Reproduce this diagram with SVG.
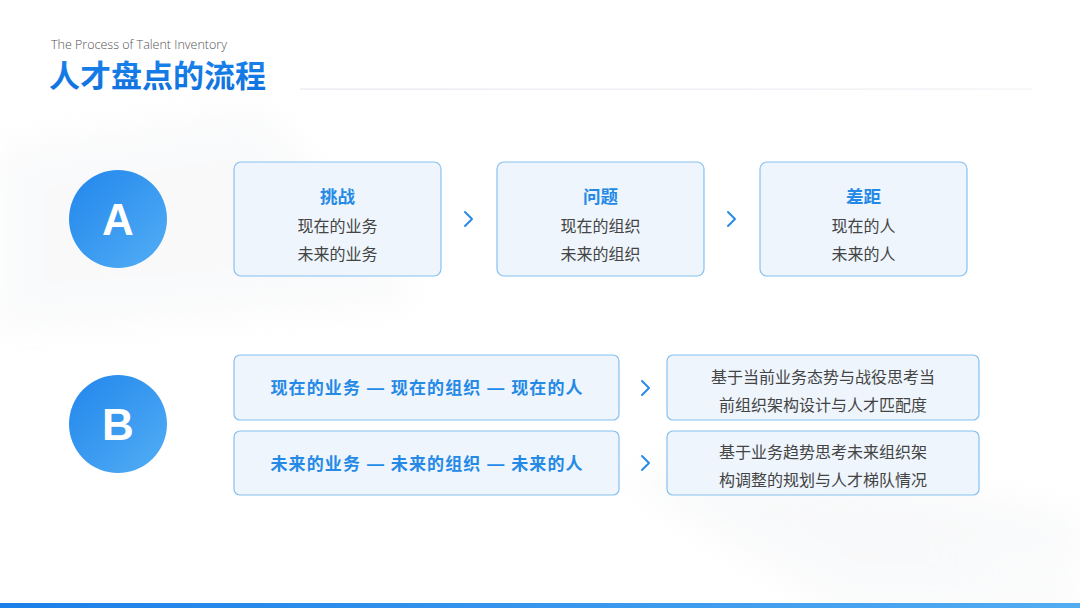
<svg xmlns="http://www.w3.org/2000/svg" width="1080" height="608" viewBox="0 0 1080 608">
<defs>
<linearGradient id="circ" x1="0" y1="0" x2="1" y2="1"><stop offset="0" stop-color="#2286ec"/><stop offset="1" stop-color="#52aef5"/></linearGradient>
<linearGradient id="bar" x1="0" y1="0" x2="1" y2="0"><stop offset="0" stop-color="#1a7fe8"/><stop offset="1" stop-color="#52acf2"/></linearGradient>
<linearGradient id="ttl" x1="0" y1="0" x2="0" y2="1"><stop offset="0" stop-color="#1a86ee"/><stop offset="1" stop-color="#0f6fdc"/></linearGradient>
<linearGradient id="ln" x1="0" y1="0" x2="1" y2="0"><stop offset="0" stop-color="#e4e8ee"/><stop offset="1" stop-color="#eef1f5"/></linearGradient>
<filter id="blur" x="-20%" y="-20%" width="140%" height="140%"><feGaussianBlur stdDeviation="18"/></filter>
</defs>
<style>
.box{fill:#eef5fc;stroke:#86c1f0;stroke-width:1.2}
.hd{font-family:"Noto Sans CJK SC",sans-serif;font-weight:700;font-size:17.5px;fill:#2589e6;text-anchor:middle}
.tx{font-family:"Noto Sans CJK SC",sans-serif;font-size:16px;fill:#444;text-anchor:middle}
.bt{font-family:"Noto Sans CJK SC",sans-serif;font-weight:700;font-size:17px;fill:#2589e6;text-anchor:middle}
.dash{font-family:"Liberation Sans",Arial,sans-serif;font-weight:700}
.ltr{font-family:"Liberation Sans",Arial,sans-serif;font-weight:700;font-size:44px;fill:#fff;text-anchor:middle}
.chev{fill:none;stroke:#2a8ae8;stroke-width:2;stroke-linecap:round;stroke-linejoin:round}
</style>
<rect width="1080" height="608" fill="#fff"/>
<g filter="url(#blur)" opacity="0.35">
<polygon points="0,150 260,110 420,300 0,330" fill="#eef0f3"/>
<polygon points="620,470 760,560 1080,560 1080,520 900,480" fill="#eceef1"/>
<polygon points="700,520 840,608 1080,608 1080,580" fill="#eef0f3"/>
</g>
<text x="51" y="49" font-family="'Open Sans','Liberation Sans',sans-serif" font-weight="300" font-size="12.5" fill="#555">The Process of Talent Inventory</text>
<text x="49" y="87" font-family="'Noto Sans CJK SC',sans-serif" font-weight="700" font-size="31" fill="url(#ttl)">人才盘点的流程</text>
<rect x="300" y="88.5" width="732" height="1.2" fill="url(#ln)"/>
<g id="circleA"><circle cx="118" cy="219" r="49" fill="url(#circ)"/><text class="ltr" x="118" y="235">A</text></g>
<g id="circleB"><circle cx="118" cy="424" r="49" fill="url(#circ)"/><text class="ltr" x="118" y="440">B</text></g>
<g id="boxA1"><rect class="box" x="234" y="162" width="207" height="114" rx="7"/><text class="hd" x="337.5" y="203">挑战</text><text class="tx" x="337.5" y="232">现在的业务</text><text class="tx" x="337.5" y="260">未来的业务</text></g>
<g id="boxA2"><rect class="box" x="497" y="162" width="207" height="114" rx="7"/><text class="hd" x="600.5" y="203">问题</text><text class="tx" x="600.5" y="232">现在的组织</text><text class="tx" x="600.5" y="260">未来的组织</text></g>
<g id="boxA3"><rect class="box" x="760" y="162" width="207" height="114" rx="7"/><text class="hd" x="863.5" y="203">差距</text><text class="tx" x="863.5" y="232">现在的人</text><text class="tx" x="863.5" y="260">未来的人</text></g>
<g id="boxB1"><rect class="box" x="234" y="355" width="385" height="65" rx="6"/><text class="bt" x="426.5" y="394" textLength="312" lengthAdjust="spacing">现在的业务<tspan class="dash"> — </tspan>现在的组织<tspan class="dash"> — </tspan>现在的人</text></g>
<g id="boxB2"><rect class="box" x="234" y="431" width="385" height="64" rx="6"/><text class="bt" x="426.5" y="470" textLength="312" lengthAdjust="spacing">未来的业务<tspan class="dash"> — </tspan>未来的组织<tspan class="dash"> — </tspan>未来的人</text></g>
<g id="boxB3"><rect class="box" x="667" y="355" width="312" height="65" rx="6"/><text class="tx" x="823" y="383">基于当前业务态势与战役思考当</text><text class="tx" x="823" y="411">前组织架构设计与人才匹配度</text></g>
<g id="boxB4"><rect class="box" x="667" y="431" width="312" height="64" rx="6"/><text class="tx" x="823" y="458">基于业务趋势思考未来组织架</text><text class="tx" x="823" y="486">构调整的规划与人才梯队情况</text></g>
<g id="connectors">
<polyline class="chev" points="465,212 472,219 465,226"/>
<polyline class="chev" points="728,212 735,219 728,226"/>
<polyline class="chev" points="642,381 649,388 642,395"/>
<polyline class="chev" points="642,456 649,463 642,470"/>
</g>
<rect x="0" y="603" width="1080" height="5" fill="url(#bar)"/>
</svg>
